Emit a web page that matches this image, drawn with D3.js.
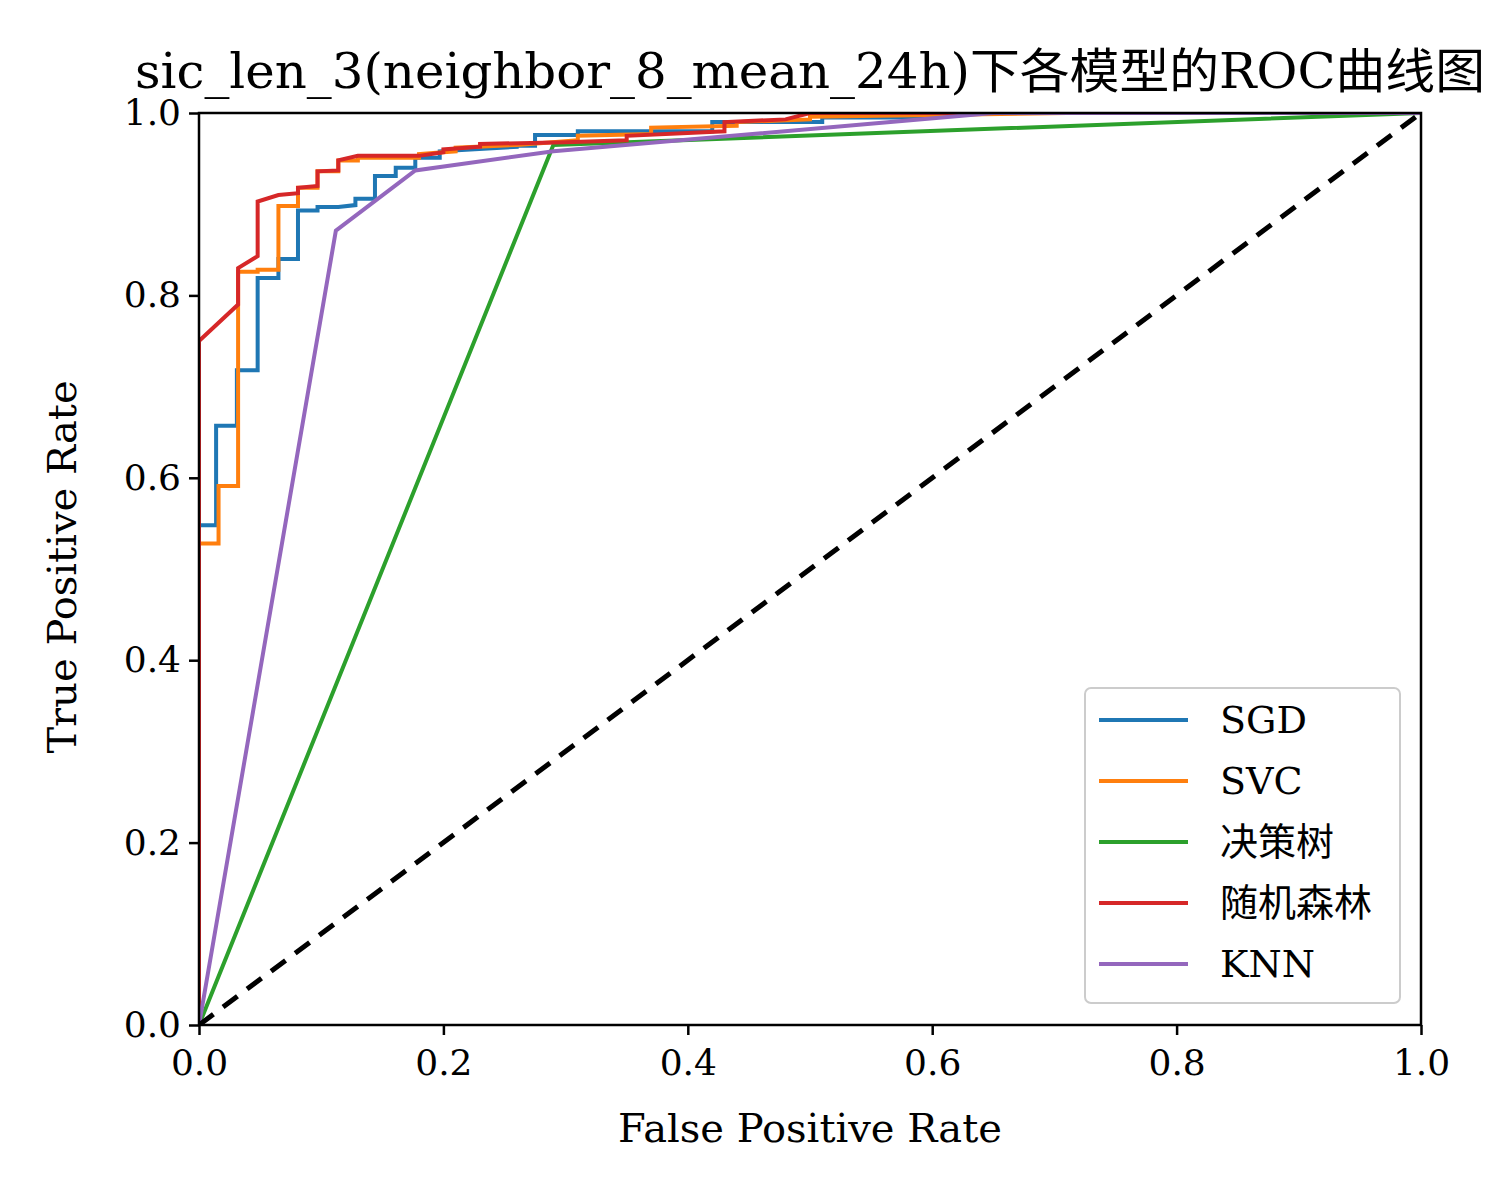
<!DOCTYPE html>
<html><head><meta charset="utf-8">
<script src="https://cdn.jsdelivr.net/npm/d3@7"></script>
<style>body{margin:0;background:#fff}text{font-family:"DejaVu Serif","Noto Sans CJK SC",serif}</style>
</head><body><div id="chart"></div>
<script>
const names = ['SGD', 'SVC', '决策树', '随机森林', 'KNN'];
const colors = ['#1f77b4', '#ff7f0e', '#2ca02c', '#d62728', '#9467bd'];
const sgd = [[0,0],[0,0.548],[0.014,0.548],[0.014,0.657],[0.031,0.657],[0.031,0.718],[0.048,0.718],[0.048,0.819],[0.065,0.819],[0.065,0.84],[0.081,0.84],[0.081,0.893],[0.097,0.893],[0.097,0.897],[0.114,0.897],[0.128,0.899],[0.128,0.906],[0.144,0.906],[0.144,0.931],[0.161,0.931],[0.161,0.94],[0.177,0.94],[0.177,0.951],[0.197,0.951],[0.197,0.958],[0.26,0.963],[0.26,0.964],[0.275,0.964],[0.275,0.976],[0.31,0.976],[0.31,0.98],[0.42,0.98],[0.42,0.99],[0.51,0.99],[0.51,0.995],[0.6,0.995],[0.6,1],[1,1]];
const svc = [[0,0],[0,0.528],[0.016,0.528],[0.016,0.591],[0.032,0.591],[0.032,0.826],[0.048,0.826],[0.048,0.828],[0.065,0.828],[0.065,0.898],[0.081,0.898],[0.081,0.918],[0.097,0.918],[0.097,0.936],[0.114,0.936],[0.114,0.948],[0.13,0.948],[0.13,0.951],[0.18,0.951],[0.18,0.955],[0.21,0.958],[0.21,0.962],[0.26,0.965],[0.31,0.97],[0.31,0.975],[0.37,0.977],[0.37,0.984],[0.44,0.986],[0.44,0.99],[0.5,0.993],[0.5,0.996],[0.71,1],[1,1]];
const tree = [[0,0],[0.29,0.965],[1,1]];
const forest = [[0,0],[0,0.75],[0.032,0.79],[0.032,0.83],[0.048,0.843],[0.048,0.903],[0.065,0.91],[0.081,0.912],[0.081,0.918],[0.097,0.92],[0.097,0.936],[0.114,0.937],[0.114,0.948],[0.13,0.953],[0.18,0.953],[0.2,0.957],[0.2,0.96],[0.23,0.963],[0.23,0.966],[0.3,0.968],[0.35,0.97],[0.35,0.975],[0.43,0.98],[0.43,0.99],[0.48,0.993],[0.5,1],[1,1]];
const knn = [[0,0],[0.112,0.871],[0.177,0.937],[0.29,0.958],[0.65,1],[1,1]];
const series = [sgd, svc, tree, forest, knn];
const ticks = [0, 0.2, 0.4, 0.6, 0.8, 1.0];

const margin = {left: 199, top: 113, right: 79, bottom: 175};
const W = 1500, H = 1200;
const w = W - margin.left - margin.right, h = H - margin.top - margin.bottom;
const svg = d3.select('#chart').append('svg').attr('width', W).attr('height', H);
const g = svg.append('g').attr('transform', `translate(${margin.left},${margin.top})`);
const x = d3.scaleLinear().domain([0, 1]).range([0, w]);
const y = d3.scaleLinear().domain([0, 1]).range([h, 0]);

const line = d3.line().x(d => x(d[0])).y(d => y(d[1]));
g.append('defs').append('clipPath').attr('id', 'clip').append('rect').attr('width', w).attr('height', h);
const plot = g.append('g').attr('clip-path', 'url(#clip)');
series.forEach((s, i) => {
    plot.append('path').datum(s).attr('d', line).attr('fill', 'none')
        .attr('stroke', colors[i]).attr('stroke-width', 4);
});
plot.append('path').datum([[0,0],[1,1]]).attr('d', line).attr('fill', 'none')
    .attr('stroke', '#000').attr('stroke-width', 5).attr('stroke-dasharray', '18,12');

const fmt = d3.format('.1f');
const xa = g.append('g').attr('transform', `translate(0,${h})`)
    .call(d3.axisBottom(x).tickValues(ticks).tickFormat(fmt).tickSize(10).tickPadding(14));
const ya = g.append('g').call(d3.axisLeft(y).tickValues(ticks).tickFormat(fmt).tickSize(10).tickPadding(8));
[xa, ya].forEach(a => {
    a.selectAll('text').attr('font-size', 36).attr('fill', '#000');
    a.selectAll('line').attr('stroke-width', 2.5);
    a.select('.domain').remove();
});
g.append('rect').attr('width', w).attr('height', h).attr('fill', 'none').attr('stroke', '#000').attr('stroke-width', 2.5);

svg.append('text').attr('x', margin.left + w / 2).attr('y', 1142).attr('text-anchor', 'middle')
    .attr('font-size', 40).text('False Positive Rate');
svg.append('text').attr('transform', `translate(76,${margin.top + h / 2 - 2}) rotate(-90)`).attr('text-anchor', 'middle')
    .attr('font-size', 40).text('True Positive Rate');
svg.append('text').attr('x', 810).attr('y', 88).attr('text-anchor', 'middle')
    .attr('font-size', 48).attr('textLength', 1350).attr('lengthAdjust', 'spacingAndGlyphs')
    .text('sic_len_3(neighbor_8_mean_24h)下各模型的ROC曲线图');

const lg = svg.append('g').attr('transform', 'translate(1085,688)');
lg.append('rect').attr('width', 315).attr('height', 315).attr('rx', 6)
    .attr('fill', '#fff').attr('fill-opacity', 0.8).attr('stroke', '#ccc').attr('stroke-width', 2);
names.forEach((n, i) => {
    const yy = 32 + i * 61;
    lg.append('line').attr('x1', 14).attr('x2', 103).attr('y1', yy).attr('y2', yy)
        .attr('stroke', colors[i]).attr('stroke-width', 4);
    lg.append('text').attr('x', 135).attr('y', yy + 13).attr('font-size', 38).text(n);
});
</script></body></html>
